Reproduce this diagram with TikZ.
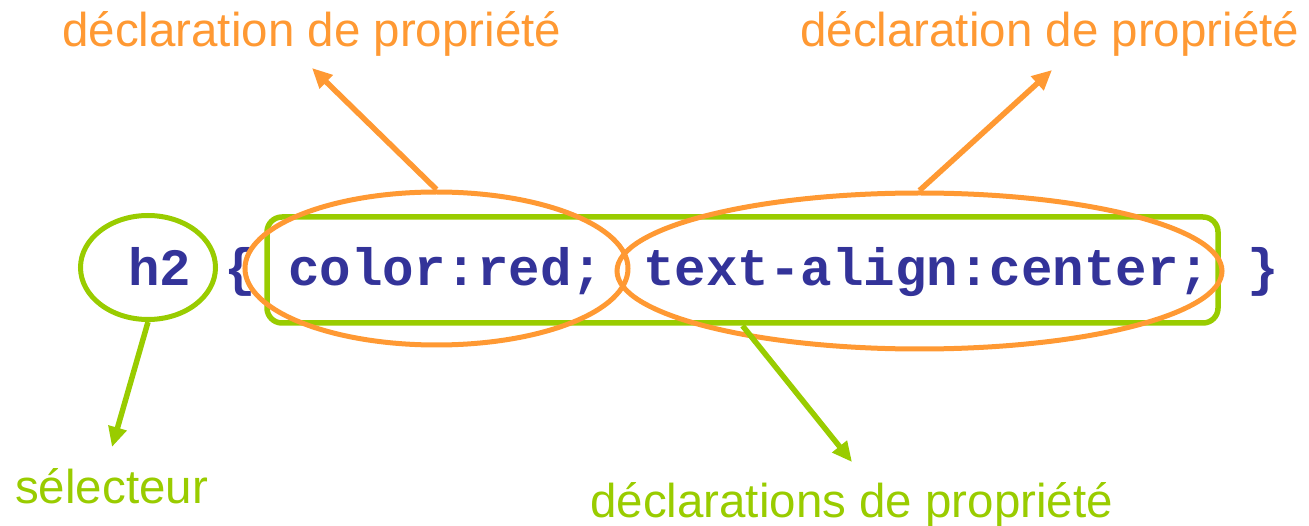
\documentclass[tikz,border=0pt]{standalone}
\usepackage{fontspec}
\setmainfont{Liberation Sans}
\newfontfamily\codefont{Liberation Mono}
\usetikzlibrary{shapes.geometric,arrows.meta}
\definecolor{orng}{RGB}{255,153,51}
\definecolor{grn}{RGB}{153,204,0}
\definecolor{codeblue}{RGB}{51,51,153}
\begin{document}
\begin{tikzpicture}[x=1pt,y=-1pt,
  lbl/.style={inner sep=0pt, anchor=base west, font=\fontsize{47.5}{54}\selectfont},
  code/.style={inner sep=0pt, anchor=base west, text=codeblue, font=\codefont\bfseries\fontsize{52.5}{60}\selectfont},
  oring/.style={draw=orng, line width=5pt, ellipse, inner sep=0pt},
  gring/.style={draw=grn, line width=5pt, ellipse, inner sep=0pt},
  garrow/.style={draw=grn, line width=5.5pt, -{Triangle[length=20pt,width=18pt]}},
  oarrow/.style={draw=orng, line width=5.5pt, -{Triangle[length=20pt,width=18pt]}}
]
\useasboundingbox (0,0) rectangle (1309,526);
% code text
\node[code] (h2t) at (128,286) {h2};
\node[code] (ob) at (224,286) {\{};
\node[code] (decl1) at (288,286) {color:red;};
\node[code] (decl2) at (643,286) {text-align:center;};
\node[code] (cb) at (1247,286) {\}};
% shapes
\node[gring, minimum width=135pt, minimum height=104pt] (sel) at (148,267.5) {};
\node[draw=grn, line width=5.5pt, rounded corners=15pt, minimum width=951pt, minimum height=106pt, inner sep=0pt] (blk) at (742.5,270) {};
\node[oring, minimum width=383pt, minimum height=153pt] (e1) at (436.5,268.5) {};
\node[oring, minimum width=605pt, minimum height=156pt] (e2) at (919.5,271) {};
% labels
\node[lbl, text=orng] (l1) at (62,47) {déclaration de propriété};
\node[lbl, text=orng] (l2) at (800,47) {déclaration de propriété};
\node[lbl, text=grn] (l3) at (15,503) {sélecteur};
\node[lbl, text=grn] (l4) at (590,517) {déclarations de propriété};
% arrow ends
\coordinate (t1) at (312,68);
\coordinate (t2) at (1052,70);
\coordinate (t3) at (112,447);
\coordinate (t4) at (852,462);
\draw[oarrow] (e1.north) -- (t1);
\draw[oarrow] (e2.north) -- (t2);
\draw[garrow] (sel.south) -- (t3);
\draw[garrow] (blk.south) -- (t4);
\end{tikzpicture}
\end{document}
